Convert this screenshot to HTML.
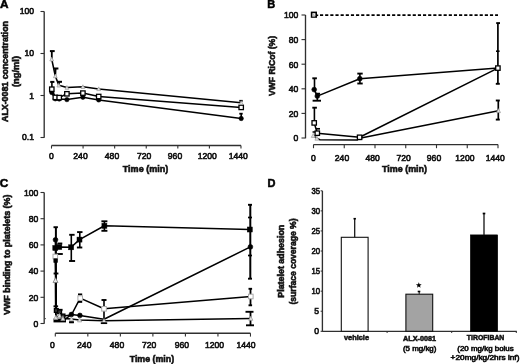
<!DOCTYPE html>
<html><head><meta charset="utf-8"><style>
html,body{margin:0;padding:0;background:#fff;width:520px;height:364px;overflow:hidden}
svg{display:block}
text{font-family:"Liberation Sans", sans-serif;stroke:#111;stroke-width:0.6px;paint-order:stroke}
text[font-weight=bold]{stroke-width:0.55px}
svg{filter:grayscale(1) blur(0.3px)}
</style></head><body>
<svg width="520" height="364" viewBox="0 0 520 364">
<rect width="520" height="364" fill="#fff"/>
<text x="0.0" y="8.3" font-size="11.8" font-weight="bold" text-anchor="start" fill="#000">A</text>
<text x="267.3" y="8.4" font-size="11.0" font-weight="bold" text-anchor="start" fill="#000">B</text>
<text x="-0.2" y="186.7" font-size="11.8" font-weight="bold" text-anchor="start" fill="#000">C</text>
<text x="267.6" y="187.2" font-size="11" font-weight="bold" text-anchor="start" fill="#000">D</text>
<line x1="44.2" y1="11.5" x2="44.2" y2="137.8" stroke="#303030" stroke-width="1.35" />
<line x1="40.5" y1="11.5" x2="44.2" y2="11.5" stroke="#303030" stroke-width="1.1" />
<text x="34.0" y="14.3" font-size="8.6" font-weight="normal" text-anchor="end" fill="#111">100</text>
<line x1="40.5" y1="53.5" x2="44.2" y2="53.5" stroke="#303030" stroke-width="1.1" />
<text x="34.0" y="56.1" font-size="8.6" font-weight="normal" text-anchor="end" fill="#111">10</text>
<line x1="40.5" y1="95.5" x2="44.2" y2="95.5" stroke="#303030" stroke-width="1.1" />
<text x="34.0" y="98.6" font-size="8.6" font-weight="normal" text-anchor="end" fill="#111">1</text>
<line x1="40.5" y1="137.5" x2="44.2" y2="137.5" stroke="#303030" stroke-width="1.1" />
<text x="34.0" y="139.8" font-size="8.6" font-weight="normal" text-anchor="end" fill="#111">0.1</text>
<text x="7.6" y="71.5" font-size="8.4" font-weight="bold" text-anchor="middle" fill="#111" textLength="101" lengthAdjust="spacingAndGlyphs" transform="rotate(-90 7.6 71.5)">ALX-0081 concentration</text>
<text x="19.2" y="71.5" font-size="8.4" font-weight="bold" text-anchor="middle" fill="#111" textLength="31" lengthAdjust="spacingAndGlyphs" transform="rotate(-90 19.2 71.5)">(ng/ml)</text>
<line x1="51.5" y1="145.5" x2="240.98" y2="145.5" stroke="#303030" stroke-width="1.35" />
<line x1="51.5" y1="145.5" x2="51.5" y2="148.6" stroke="#303030" stroke-width="1.1" />
<text x="51.45" y="159.2" font-size="8.6" font-weight="normal" text-anchor="middle" fill="#111">0</text>
<line x1="83.08" y1="145.5" x2="83.08" y2="148.6" stroke="#303030" stroke-width="1.1" />
<text x="80.5" y="159.2" font-size="8.6" font-weight="normal" text-anchor="middle" fill="#111">240</text>
<line x1="114.66" y1="145.5" x2="114.66" y2="148.6" stroke="#303030" stroke-width="1.1" />
<text x="112.0" y="159.2" font-size="8.6" font-weight="normal" text-anchor="middle" fill="#111">480</text>
<line x1="146.24" y1="145.5" x2="146.24" y2="148.6" stroke="#303030" stroke-width="1.1" />
<text x="144.1" y="159.2" font-size="8.6" font-weight="normal" text-anchor="middle" fill="#111">720</text>
<line x1="177.82" y1="145.5" x2="177.82" y2="148.6" stroke="#303030" stroke-width="1.1" />
<text x="175.0" y="159.2" font-size="8.6" font-weight="normal" text-anchor="middle" fill="#111">960</text>
<line x1="209.39999999999998" y1="145.5" x2="209.39999999999998" y2="148.6" stroke="#303030" stroke-width="1.1" />
<text x="207.3" y="159.2" font-size="8.6" font-weight="normal" text-anchor="middle" fill="#111">1200</text>
<line x1="240.98" y1="145.5" x2="240.98" y2="148.6" stroke="#303030" stroke-width="1.1" />
<text x="238.25" y="159.2" font-size="8.6" font-weight="normal" text-anchor="middle" fill="#111">1440</text>
<text x="145.5" y="172.0" font-size="8.8" font-weight="bold" text-anchor="middle" fill="#111" textLength="45.5" lengthAdjust="spacingAndGlyphs">Time (min)</text>
<line x1="51.8" y1="51" x2="51.8" y2="59" stroke="#000" stroke-width="1.8" />
<line x1="49.9" y1="51.1" x2="54.699999999999996" y2="51.1" stroke="#000" stroke-width="2.0" />
<line x1="55.6" y1="68.5" x2="55.3" y2="76" stroke="#000" stroke-width="1.8" />
<line x1="54.0" y1="68.5" x2="58.400000000000006" y2="68.5" stroke="#000" stroke-width="2.0" />
<line x1="59.5" y1="81.8" x2="58.8" y2="85" stroke="#000" stroke-width="1.6" />
<line x1="57.599999999999994" y1="81.8" x2="62.0" y2="81.8" stroke="#000" stroke-width="2.0" />
<line x1="51.9" y1="81.8" x2="51.9" y2="89" stroke="#000" stroke-width="1.6" />
<line x1="50.199999999999996" y1="81.9" x2="54.4" y2="81.9" stroke="#000" stroke-width="2.0" />
<line x1="241.2" y1="100.7" x2="241.2" y2="102.8" stroke="#000" stroke-width="1.6" />
<line x1="239.3" y1="100.8" x2="242.7" y2="100.8" stroke="#000" stroke-width="1.8" />
<line x1="241.2" y1="113.6" x2="241.2" y2="118.5" stroke="#000" stroke-width="1.6" />
<line x1="239.3" y1="113.7" x2="242.7" y2="113.7" stroke="#000" stroke-width="1.8" />
<polyline points="51.8,92.5 55.3,98.8 59.2,99.0 66.9,99.6 82.9,97.2 98.7,99.9 241.2,118.5" fill="none" stroke="#000" stroke-width="1.55" stroke-linejoin="round"/>
<polyline points="51.8,89.2 55.3,97.4 59.2,97.6 66.9,93.8 82.9,93.1 98.7,96.5 241.2,107.4" fill="none" stroke="#000" stroke-width="1.55" stroke-linejoin="round"/>
<polyline points="51.7,59.2 55.3,76.0 58.8,85.3 66.9,87.6 82.9,86.8 98.7,88.9 241.2,102.8" fill="none" stroke="#000" stroke-width="1.55" stroke-linejoin="round"/>
<circle cx="51.8" cy="92.5" r="2.2" fill="#000" stroke="#000" stroke-width="0.6"/>
<circle cx="55.3" cy="98.8" r="2.2" fill="#000" stroke="#000" stroke-width="0.6"/>
<circle cx="59.2" cy="99.0" r="2.2" fill="#000" stroke="#000" stroke-width="0.6"/>
<circle cx="66.9" cy="99.6" r="2.2" fill="#000" stroke="#000" stroke-width="0.6"/>
<circle cx="82.9" cy="97.2" r="2.2" fill="#000" stroke="#000" stroke-width="0.6"/>
<circle cx="98.7" cy="99.9" r="2.2" fill="#000" stroke="#000" stroke-width="0.6"/>
<circle cx="241.2" cy="118.5" r="2.2" fill="#000" stroke="#000" stroke-width="0.6"/>
<rect x="49.599999999999994" y="87.0" width="4.4" height="4.4" fill="#fff" stroke="#000" stroke-width="1.3"/>
<rect x="53.099999999999994" y="95.2" width="4.4" height="4.4" fill="#fff" stroke="#000" stroke-width="1.3"/>
<rect x="57.0" y="95.39999999999999" width="4.4" height="4.4" fill="#fff" stroke="#000" stroke-width="1.3"/>
<rect x="64.7" y="91.6" width="4.4" height="4.4" fill="#fff" stroke="#000" stroke-width="1.3"/>
<rect x="80.7" y="90.89999999999999" width="4.4" height="4.4" fill="#fff" stroke="#000" stroke-width="1.3"/>
<rect x="96.5" y="94.3" width="4.4" height="4.4" fill="#fff" stroke="#000" stroke-width="1.3"/>
<rect x="239.0" y="105.2" width="4.4" height="4.4" fill="#fff" stroke="#000" stroke-width="1.3"/>
<polygon points="51.7,57.190000000000005 53.6,60.910000000000004 49.800000000000004,60.910000000000004" fill="#e4e4e4" stroke="#999" stroke-width="0.7"/>
<polygon points="55.3,73.99000000000001 57.199999999999996,77.71 53.4,77.71" fill="#e4e4e4" stroke="#999" stroke-width="0.7"/>
<polygon points="58.8,83.29 60.699999999999996,87.00999999999999 56.9,87.00999999999999" fill="#e4e4e4" stroke="#999" stroke-width="0.7"/>
<polygon points="66.9,85.59 68.80000000000001,89.30999999999999 65.0,89.30999999999999" fill="#e4e4e4" stroke="#999" stroke-width="0.7"/>
<polygon points="82.9,84.79 84.80000000000001,88.50999999999999 81.0,88.50999999999999" fill="#e4e4e4" stroke="#999" stroke-width="0.7"/>
<polygon points="98.7,86.89000000000001 100.60000000000001,90.61 96.8,90.61" fill="#e4e4e4" stroke="#999" stroke-width="0.7"/>
<polygon points="241.2,100.79 243.1,104.50999999999999 239.29999999999998,104.50999999999999" fill="#e4e4e4" stroke="#999" stroke-width="0.7"/>
<line x1="305.5" y1="15" x2="305.5" y2="138.3" stroke="#303030" stroke-width="1.35" />
<line x1="301.5" y1="15.0" x2="305.5" y2="15.0" stroke="#303030" stroke-width="1.1" />
<text x="298.3" y="18.3" font-size="8.6" font-weight="normal" text-anchor="end" fill="#111">100</text>
<line x1="301.5" y1="39.6" x2="305.5" y2="39.6" stroke="#303030" stroke-width="1.1" />
<text x="298.3" y="42.9" font-size="8.6" font-weight="normal" text-anchor="end" fill="#111">80</text>
<line x1="301.5" y1="64.2" x2="305.5" y2="64.2" stroke="#303030" stroke-width="1.1" />
<text x="298.3" y="67.5" font-size="8.6" font-weight="normal" text-anchor="end" fill="#111">60</text>
<line x1="301.5" y1="88.80000000000001" x2="305.5" y2="88.80000000000001" stroke="#303030" stroke-width="1.1" />
<text x="298.3" y="92.10000000000001" font-size="8.6" font-weight="normal" text-anchor="end" fill="#111">40</text>
<line x1="301.5" y1="113.4" x2="305.5" y2="113.4" stroke="#303030" stroke-width="1.1" />
<text x="298.3" y="116.7" font-size="8.6" font-weight="normal" text-anchor="end" fill="#111">20</text>
<line x1="301.5" y1="138.0" x2="305.5" y2="138.0" stroke="#303030" stroke-width="1.1" />
<text x="298.3" y="141.3" font-size="8.6" font-weight="normal" text-anchor="end" fill="#111">0</text>
<text x="274.8" y="66" font-size="8.6" font-weight="bold" text-anchor="middle" fill="#111" textLength="60" lengthAdjust="spacingAndGlyphs" transform="rotate(-90 274.8 66)">VWF RiCof (%)</text>
<line x1="313.5" y1="144.6" x2="498.0" y2="144.6" stroke="#303030" stroke-width="1.35" />
<line x1="313.5" y1="144.6" x2="313.5" y2="148.2" stroke="#303030" stroke-width="1.1" />
<text x="313.5" y="160.7" font-size="8.6" font-weight="normal" text-anchor="middle" fill="#111">0</text>
<line x1="344.25" y1="144.6" x2="344.25" y2="148.2" stroke="#303030" stroke-width="1.1" />
<text x="342.0" y="160.7" font-size="8.6" font-weight="normal" text-anchor="middle" fill="#111">240</text>
<line x1="375.0" y1="144.6" x2="375.0" y2="148.2" stroke="#303030" stroke-width="1.1" />
<text x="372.6" y="160.7" font-size="8.6" font-weight="normal" text-anchor="middle" fill="#111">480</text>
<line x1="405.75" y1="144.6" x2="405.75" y2="148.2" stroke="#303030" stroke-width="1.1" />
<text x="403.65" y="160.7" font-size="8.6" font-weight="normal" text-anchor="middle" fill="#111">720</text>
<line x1="436.5" y1="144.6" x2="436.5" y2="148.2" stroke="#303030" stroke-width="1.1" />
<text x="434.0" y="160.7" font-size="8.6" font-weight="normal" text-anchor="middle" fill="#111">960</text>
<line x1="467.25" y1="144.6" x2="467.25" y2="148.2" stroke="#303030" stroke-width="1.1" />
<text x="464.9" y="160.7" font-size="8.6" font-weight="normal" text-anchor="middle" fill="#111">1200</text>
<line x1="498.0" y1="144.6" x2="498.0" y2="148.2" stroke="#303030" stroke-width="1.1" />
<text x="495.25" y="160.7" font-size="8.6" font-weight="normal" text-anchor="middle" fill="#111">1440</text>
<text x="404.5" y="172.0" font-size="8.8" font-weight="bold" text-anchor="middle" fill="#111" textLength="45" lengthAdjust="spacingAndGlyphs">Time (min)</text>
<line x1="320.0" y1="15.2" x2="498.0" y2="15.2" stroke="#000" stroke-width="1.7" stroke-dasharray="3.15 2.0"/>
<line x1="316.0" y1="15.3" x2="318.2" y2="15.3" stroke="#000" stroke-width="1.6" />
<rect x="311.59999999999997" y="12.399999999999999" width="4.6" height="4.6" fill="#fff" stroke="#000" stroke-width="1.6"/>
<polygon points="313.7,13.93 315.0,16.57 312.4,16.57" fill="#ccc" stroke="#999" stroke-width="0.5"/>
<line x1="314.5" y1="78.3" x2="314.5" y2="89.6" stroke="#000" stroke-width="1.6" />
<line x1="312.3" y1="78.3" x2="316.90000000000003" y2="78.3" stroke="#000" stroke-width="1.9" />
<line x1="315.5" y1="93.7" x2="320.1" y2="93.7" stroke="#000" stroke-width="1.9" />
<line x1="312.6" y1="100.7" x2="321.0" y2="100.7" stroke="#000" stroke-width="1.9" />
<line x1="317.3" y1="93.7" x2="317.3" y2="100.7" stroke="#000" stroke-width="1.6" />
<line x1="314.4" y1="107.7" x2="314.4" y2="122.9" stroke="#000" stroke-width="1.6" />
<line x1="312.3" y1="107.7" x2="316.90000000000003" y2="107.7" stroke="#000" stroke-width="1.9" />
<line x1="316.0" y1="128.8" x2="320.0" y2="128.8" stroke="#000" stroke-width="1.7" />
<line x1="312.55" y1="132.0" x2="316.05" y2="132.0" stroke="#000" stroke-width="1.5" />
<line x1="359.9" y1="73.6" x2="359.9" y2="83.5" stroke="#000" stroke-width="1.6" />
<line x1="357.3" y1="73.6" x2="362.7" y2="73.6" stroke="#000" stroke-width="1.9" />
<line x1="357.3" y1="83.5" x2="362.7" y2="83.5" stroke="#000" stroke-width="1.9" />
<line x1="497.9" y1="23.1" x2="497.9" y2="83.8" stroke="#000" stroke-width="1.7" />
<line x1="496.20000000000005" y1="23.1" x2="500.0" y2="23.1" stroke="#000" stroke-width="1.9" />
<line x1="496.0" y1="51.2" x2="499.6" y2="51.2" stroke="#000" stroke-width="1.6" />
<line x1="495.8" y1="83.8" x2="499.8" y2="83.8" stroke="#000" stroke-width="1.9" />
<line x1="498.3" y1="100.5" x2="498.3" y2="119.6" stroke="#000" stroke-width="1.7" />
<line x1="495.8" y1="100.5" x2="499.8" y2="100.5" stroke="#000" stroke-width="1.9" />
<line x1="495.8" y1="119.6" x2="499.8" y2="119.6" stroke="#000" stroke-width="1.9" />
<polyline points="313.3,135.6 316.9,138.4 320,139.7 357,140.1 359.6,138.3 498.5,110.8" fill="none" stroke="#000" stroke-width="1.55" stroke-linejoin="round"/>
<polyline points="314.2,122.9 317.3,133.2 359.6,137.3 497.9,68.1" fill="none" stroke="#000" stroke-width="1.55" stroke-linejoin="round"/>
<polyline points="314.2,89.6 317.3,96.1 359.8,78.7 497.9,68.1" fill="none" stroke="#000" stroke-width="1.55" stroke-linejoin="round"/>
<polygon points="313.3,133.49999999999997 315.3,137.4 311.3,137.4" fill="#e4e4e4" stroke="#999" stroke-width="0.7"/>
<polygon points="316.9,136.29999999999998 318.9,140.20000000000002 314.9,140.20000000000002" fill="#e4e4e4" stroke="#999" stroke-width="0.7"/>
<polygon points="359.6,135.89999999999998 361.6,139.8 357.6,139.8" fill="#e4e4e4" stroke="#999" stroke-width="0.7"/>
<polygon points="498.5,108.7 500.5,112.6 496.5,112.6" fill="#e4e4e4" stroke="#999" stroke-width="0.7"/>
<rect x="312.0" y="120.7" width="4.4" height="4.4" fill="#fff" stroke="#000" stroke-width="1.3"/>
<rect x="315.1" y="131.0" width="4.4" height="4.4" fill="#fff" stroke="#000" stroke-width="1.3"/>
<rect x="357.40000000000003" y="135.10000000000002" width="4.4" height="4.4" fill="#fff" stroke="#000" stroke-width="1.3"/>
<rect x="495.7" y="65.89999999999999" width="4.4" height="4.4" fill="#fff" stroke="#000" stroke-width="1.3"/>
<circle cx="314.2" cy="89.6" r="2.4" fill="#000" stroke="#000" stroke-width="0.6"/>
<circle cx="317.3" cy="96.1" r="2.4" fill="#000" stroke="#000" stroke-width="0.6"/>
<circle cx="359.8" cy="78.7" r="2.4" fill="#000" stroke="#000" stroke-width="0.6"/>
<line x1="44.2" y1="192.5" x2="44.2" y2="323.8" stroke="#303030" stroke-width="1.35" />
<line x1="40.5" y1="192.5" x2="44.2" y2="192.5" stroke="#303030" stroke-width="1.1" />
<text x="38.3" y="195.8" font-size="8.6" font-weight="normal" text-anchor="end" fill="#111">100</text>
<line x1="40.5" y1="218.7" x2="44.2" y2="218.7" stroke="#303030" stroke-width="1.1" />
<text x="38.3" y="222.0" font-size="8.6" font-weight="normal" text-anchor="end" fill="#111">80</text>
<line x1="40.5" y1="244.9" x2="44.2" y2="244.9" stroke="#303030" stroke-width="1.1" />
<text x="38.3" y="248.20000000000002" font-size="8.6" font-weight="normal" text-anchor="end" fill="#111">60</text>
<line x1="40.5" y1="271.1" x2="44.2" y2="271.1" stroke="#303030" stroke-width="1.1" />
<text x="38.3" y="274.40000000000003" font-size="8.6" font-weight="normal" text-anchor="end" fill="#111">40</text>
<line x1="40.5" y1="297.3" x2="44.2" y2="297.3" stroke="#303030" stroke-width="1.1" />
<text x="38.3" y="300.6" font-size="8.6" font-weight="normal" text-anchor="end" fill="#111">20</text>
<line x1="40.5" y1="323.5" x2="44.2" y2="323.5" stroke="#303030" stroke-width="1.1" />
<text x="38.3" y="326.8" font-size="8.6" font-weight="normal" text-anchor="end" fill="#111">0</text>
<text x="9.6" y="254.8" font-size="8.6" font-weight="bold" text-anchor="middle" fill="#111" textLength="120.5" lengthAdjust="spacingAndGlyphs" transform="rotate(-90 9.6 254.8)">VWF binding to platelets (%)</text>
<line x1="55.3" y1="333.2" x2="250.48000000000002" y2="333.2" stroke="#303030" stroke-width="1.35" />
<line x1="55.3" y1="333.2" x2="55.3" y2="336.6" stroke="#303030" stroke-width="1.1" />
<text x="52.35" y="347.7" font-size="8.6" font-weight="normal" text-anchor="middle" fill="#111">0</text>
<line x1="87.83" y1="333.2" x2="87.83" y2="336.6" stroke="#303030" stroke-width="1.1" />
<text x="84.25" y="347.7" font-size="8.6" font-weight="normal" text-anchor="middle" fill="#111">240</text>
<line x1="120.36" y1="333.2" x2="120.36" y2="336.6" stroke="#303030" stroke-width="1.1" />
<text x="117.0" y="347.7" font-size="8.6" font-weight="normal" text-anchor="middle" fill="#111">480</text>
<line x1="152.89" y1="333.2" x2="152.89" y2="336.6" stroke="#303030" stroke-width="1.1" />
<text x="149.2" y="347.7" font-size="8.6" font-weight="normal" text-anchor="middle" fill="#111">720</text>
<line x1="185.42000000000002" y1="333.2" x2="185.42000000000002" y2="336.6" stroke="#303030" stroke-width="1.1" />
<text x="181.8" y="347.7" font-size="8.6" font-weight="normal" text-anchor="middle" fill="#111">960</text>
<line x1="217.95" y1="333.2" x2="217.95" y2="336.6" stroke="#303030" stroke-width="1.1" />
<text x="214.5" y="347.7" font-size="8.6" font-weight="normal" text-anchor="middle" fill="#111">1200</text>
<line x1="250.48000000000002" y1="333.2" x2="250.48000000000002" y2="336.6" stroke="#303030" stroke-width="1.1" />
<text x="246.0" y="347.7" font-size="8.6" font-weight="normal" text-anchor="middle" fill="#111">1440</text>
<text x="151.9" y="362.0" font-size="8.8" font-weight="bold" text-anchor="middle" fill="#111" textLength="44.4" lengthAdjust="spacingAndGlyphs">Time (min)</text>
<circle cx="45.2" cy="318.6" r="0.7" fill="#333"/>
<line x1="55.9" y1="227.2" x2="55.9" y2="310" stroke="#000" stroke-width="2.0" />
<line x1="53.5" y1="227.2" x2="57.900000000000006" y2="227.2" stroke="#000" stroke-width="1.9" />
<line x1="55.2" y1="254.0" x2="62.8" y2="254.0" stroke="#000" stroke-width="1.9" />
<line x1="53.6" y1="273.5" x2="58.4" y2="273.5" stroke="#000" stroke-width="1.9" />
<line x1="53.5" y1="306.3" x2="58.099999999999994" y2="306.3" stroke="#000" stroke-width="1.9" />
<line x1="57.05" y1="309.8" x2="62.55" y2="309.8" stroke="#000" stroke-width="1.9" />
<line x1="57.3" y1="243.5" x2="62.3" y2="243.5" stroke="#000" stroke-width="1.9" />
<line x1="71.3" y1="234.8" x2="71.3" y2="261.0" stroke="#000" stroke-width="1.6" />
<line x1="69.2" y1="234.8" x2="74.60000000000001" y2="234.8" stroke="#000" stroke-width="1.9" />
<line x1="69.1" y1="261.0" x2="75.1" y2="261.0" stroke="#000" stroke-width="1.9" />
<line x1="79.8" y1="232.1" x2="79.8" y2="247.5" stroke="#000" stroke-width="1.6" />
<line x1="77.1" y1="232.1" x2="82.5" y2="232.1" stroke="#000" stroke-width="1.9" />
<line x1="76.89999999999999" y1="247.5" x2="82.3" y2="247.5" stroke="#000" stroke-width="1.9" />
<line x1="78.0" y1="294.4" x2="82.19999999999999" y2="294.4" stroke="#000" stroke-width="1.9" />
<line x1="78.0" y1="301.9" x2="82.19999999999999" y2="301.9" stroke="#000" stroke-width="1.9" />
<line x1="104.4" y1="221.3" x2="104.4" y2="230.8" stroke="#000" stroke-width="1.6" />
<line x1="101.4" y1="221.3" x2="107.4" y2="221.3" stroke="#000" stroke-width="1.9" />
<line x1="101.4" y1="230.8" x2="107.4" y2="230.8" stroke="#000" stroke-width="1.9" />
<line x1="104.0" y1="300.0" x2="104.0" y2="322.6" stroke="#000" stroke-width="1.6" />
<line x1="101.5" y1="300.0" x2="106.5" y2="300.0" stroke="#000" stroke-width="1.9" />
<line x1="250.3" y1="204.8" x2="250.3" y2="278.7" stroke="#000" stroke-width="2.0" />
<line x1="248.0" y1="204.8" x2="252.0" y2="204.8" stroke="#000" stroke-width="1.9" />
<line x1="248.0" y1="217.5" x2="252.0" y2="217.5" stroke="#000" stroke-width="1.7" />
<line x1="248.0" y1="255.5" x2="252.0" y2="255.5" stroke="#000" stroke-width="1.7" />
<line x1="248.0" y1="278.7" x2="252.0" y2="278.7" stroke="#000" stroke-width="1.9" />
<line x1="250.5" y1="288.8" x2="250.5" y2="305.3" stroke="#000" stroke-width="1.8" />
<line x1="248.5" y1="288.8" x2="252.10000000000002" y2="288.8" stroke="#000" stroke-width="1.9" />
<line x1="248.5" y1="305.3" x2="252.10000000000002" y2="305.3" stroke="#000" stroke-width="1.9" />
<line x1="250.5" y1="311.8" x2="250.5" y2="325.3" stroke="#000" stroke-width="1.8" />
<line x1="245.5" y1="311.8" x2="253.5" y2="311.8" stroke="#000" stroke-width="1.9" />
<line x1="246.0" y1="325.3" x2="254.0" y2="325.3" stroke="#000" stroke-width="1.9" />
<rect x="53.5" y="318.6" width="12.5" height="3.8" fill="#000"/>
<rect x="69.2" y="321.2" width="4.6" height="1.9" fill="#000"/>
<polyline points="55.5,239.8 56.0,320.5 59.5,320.8 63.0,320.8 71.4,314.5 79.9,315.4 104.0,319.3 250.4,246.9" fill="none" stroke="#000" stroke-width="1.55" stroke-linejoin="round"/>
<polyline points="55.5,280.3 55.8,317.5 59.4,315.6 62.9,318.5 71.4,319.0 79.6,320.0 104.0,320.8 250.8,318.4" fill="none" stroke="#000" stroke-width="1.55" stroke-linejoin="round"/>
<polyline points="55.3,256.5 56.3,310.5 59.6,311.8 63.0,316.0 71.4,315.0 80.2,298.1 104.0,308.8 250.8,296.5" fill="none" stroke="#000" stroke-width="1.55" stroke-linejoin="round"/>
<polyline points="55.3,248.0 59.3,247.0 71.1,247.3 79.5,239.6 104.4,225.8 249.8,229.5" fill="none" stroke="#000" stroke-width="1.55" stroke-linejoin="round"/>
<rect x="53.0" y="254.2" width="4.6" height="4.6" fill="#fff" stroke="#aaa" stroke-width="1.0"/>
<rect x="54.4" y="308.6" width="3.8" height="3.8" fill="#333" stroke="#000" stroke-width="1.3"/>
<rect x="57.7" y="309.90000000000003" width="3.8" height="3.8" fill="#333" stroke="#000" stroke-width="1.3"/>
<rect x="61.1" y="314.1" width="3.8" height="3.8" fill="#333" stroke="#000" stroke-width="1.3"/>
<rect x="77.9" y="295.8" width="4.6" height="4.6" fill="#fff" stroke="#aaa" stroke-width="1.0"/>
<rect x="101.7" y="306.5" width="4.6" height="4.6" fill="#fff" stroke="#aaa" stroke-width="1.0"/>
<rect x="248.5" y="294.2" width="4.6" height="4.6" fill="#fff" stroke="#aaa" stroke-width="1.0"/>
<circle cx="55.5" cy="239.8" r="2.4" fill="#000" stroke="#000" stroke-width="0.6"/>
<circle cx="71.4" cy="314.5" r="2.4" fill="#000" stroke="#000" stroke-width="0.6"/>
<circle cx="79.9" cy="315.4" r="2.4" fill="#000" stroke="#000" stroke-width="0.6"/>
<circle cx="250.4" cy="246.9" r="2.4" fill="#000" stroke="#000" stroke-width="0.6"/>
<polygon points="55.8,315.31 57.9,319.39 53.699999999999996,319.39" fill="#e4e4e4" stroke="#999" stroke-width="0.7"/>
<polygon points="59.4,313.41 61.5,317.49 57.3,317.49" fill="#e4e4e4" stroke="#999" stroke-width="0.7"/>
<polygon points="62.9,316.31 65.0,320.39 60.8,320.39" fill="#e4e4e4" stroke="#999" stroke-width="0.7"/>
<polygon points="71.4,316.81 73.5,320.89 69.30000000000001,320.89" fill="#e4e4e4" stroke="#999" stroke-width="0.7"/>
<polygon points="79.6,317.81 81.69999999999999,321.89 77.5,321.89" fill="#e4e4e4" stroke="#999" stroke-width="0.7"/>
<polygon points="104.0,318.61 106.1,322.69 101.9,322.69" fill="#e4e4e4" stroke="#999" stroke-width="0.7"/>
<polygon points="250.8,316.21 252.9,320.28999999999996 248.70000000000002,320.28999999999996" fill="#e4e4e4" stroke="#999" stroke-width="0.7"/>
<polygon points="55.5,277.75 58.0,282.55 53.0,282.55" fill="#e8e8e8" stroke="#777" stroke-width="0.8"/>
<rect x="53.9" y="258.90000000000003" width="3.4" height="3.4" fill="#000" stroke="#000" stroke-width="0.8"/>
<line x1="100.8" y1="323.2" x2="107.2" y2="323.2" stroke="#000" stroke-width="1.7" />
<rect x="69.2" y="321.6" width="4.6" height="1.6" fill="#000"/>
<rect x="52.8" y="245.5" width="5.0" height="5.0" fill="#000" stroke="#000" stroke-width="0.5"/>
<rect x="56.8" y="244.5" width="5.0" height="5.0" fill="#000" stroke="#000" stroke-width="0.5"/>
<rect x="68.6" y="244.8" width="5.0" height="5.0" fill="#000" stroke="#000" stroke-width="0.5"/>
<rect x="77.0" y="237.1" width="5.0" height="5.0" fill="#000" stroke="#000" stroke-width="0.5"/>
<rect x="101.9" y="223.3" width="5.0" height="5.0" fill="#000" stroke="#000" stroke-width="0.5"/>
<rect x="247.3" y="227.0" width="5.0" height="5.0" fill="#000" stroke="#000" stroke-width="0.5"/>
<line x1="322.4" y1="190.8" x2="322.4" y2="331.8" stroke="#303030" stroke-width="1.35" />
<line x1="320.6" y1="331.3" x2="322.4" y2="331.3" stroke="#303030" stroke-width="1.0" />
<text x="319.0" y="334.40000000000003" font-size="8.6" font-weight="normal" text-anchor="end" fill="#111">0</text>
<line x1="320.6" y1="311.23" x2="322.4" y2="311.23" stroke="#303030" stroke-width="1.0" />
<text x="319.0" y="314.33000000000004" font-size="8.6" font-weight="normal" text-anchor="end" fill="#111">5</text>
<line x1="320.6" y1="291.16" x2="322.4" y2="291.16" stroke="#303030" stroke-width="1.0" />
<text x="320.0" y="294.26000000000005" font-size="8.6" font-weight="normal" text-anchor="end" fill="#111" textLength="8.6" lengthAdjust="spacingAndGlyphs">10</text>
<line x1="320.6" y1="271.09000000000003" x2="322.4" y2="271.09000000000003" stroke="#303030" stroke-width="1.0" />
<text x="320.0" y="274.19000000000005" font-size="8.6" font-weight="normal" text-anchor="end" fill="#111" textLength="8.6" lengthAdjust="spacingAndGlyphs">15</text>
<line x1="320.6" y1="251.02" x2="322.4" y2="251.02" stroke="#303030" stroke-width="1.0" />
<text x="320.0" y="254.12" font-size="8.6" font-weight="normal" text-anchor="end" fill="#111" textLength="8.6" lengthAdjust="spacingAndGlyphs">20</text>
<line x1="320.6" y1="230.95" x2="322.4" y2="230.95" stroke="#303030" stroke-width="1.0" />
<text x="320.0" y="234.04999999999998" font-size="8.6" font-weight="normal" text-anchor="end" fill="#111" textLength="8.6" lengthAdjust="spacingAndGlyphs">25</text>
<line x1="320.6" y1="210.88" x2="322.4" y2="210.88" stroke="#303030" stroke-width="1.0" />
<text x="320.0" y="213.98" font-size="8.6" font-weight="normal" text-anchor="end" fill="#111" textLength="8.6" lengthAdjust="spacingAndGlyphs">30</text>
<line x1="320.6" y1="190.81" x2="322.4" y2="190.81" stroke="#303030" stroke-width="1.0" />
<text x="320.0" y="193.91" font-size="8.6" font-weight="normal" text-anchor="end" fill="#111" textLength="8.6" lengthAdjust="spacingAndGlyphs">35</text>
<text x="283.8" y="261.2" font-size="8.2" font-weight="bold" text-anchor="middle" fill="#111" textLength="73" lengthAdjust="spacingAndGlyphs" transform="rotate(-90 283.8 261.2)">Platelet adhesion</text>
<text x="295.8" y="261.5" font-size="8.2" font-weight="bold" text-anchor="middle" fill="#111" textLength="86" lengthAdjust="spacingAndGlyphs" transform="rotate(-90 295.8 261.5)">(surface coverage %)</text>
<line x1="322.4" y1="331.3" x2="516.8" y2="331.3" stroke="#303030" stroke-width="1.35" />
<line x1="387.1" y1="331.3" x2="387.1" y2="333.0" stroke="#303030" stroke-width="1.0" />
<line x1="451.7" y1="331.3" x2="451.7" y2="333.0" stroke="#303030" stroke-width="1.0" />
<line x1="516.3" y1="331.3" x2="516.3" y2="333.0" stroke="#303030" stroke-width="1.0" />
<rect x="341.3" y="237.3" width="26.8" height="94.0" fill="#fff" stroke="#111" stroke-width="1.1"/>
<rect x="405.9" y="294.2" width="26.8" height="37.10000000000002" fill="#a3a3a3" stroke="#111" stroke-width="1.1"/>
<rect x="470.4" y="234.9" width="27.3" height="96.4" fill="#000" stroke="#000" stroke-width="0.6"/>
<line x1="354.7" y1="218.5" x2="354.7" y2="237.3" stroke="#111" stroke-width="1.25" />
<line x1="353.5" y1="218.7" x2="355.9" y2="218.7" stroke="#000" stroke-width="1.6" />
<line x1="419.2" y1="291.4" x2="419.2" y2="294.2" stroke="#222" stroke-width="1.1" />
<line x1="417.7" y1="291.5" x2="420.3" y2="291.5" stroke="#000" stroke-width="1.6" />
<line x1="484.0" y1="213.3" x2="484.0" y2="235" stroke="#111" stroke-width="1.3" />
<line x1="482.7" y1="213.5" x2="485.3" y2="213.5" stroke="#000" stroke-width="1.7" />
<polygon points="418.80,282.30 419.56,284.25 421.65,284.37 420.04,285.70 420.56,287.73 418.80,286.60 417.04,287.73 417.56,285.70 415.95,284.37 418.04,284.25" fill="#000"/>
<text x="356.5" y="340.0" font-size="7.8" font-weight="bold" text-anchor="middle" fill="#111" textLength="25" lengthAdjust="spacingAndGlyphs">vehicle</text>
<text x="419.5" y="340.5" font-size="7.8" font-weight="bold" text-anchor="middle" fill="#111" textLength="33" lengthAdjust="spacingAndGlyphs">ALX-0081</text>
<text x="419.7" y="350.7" font-size="7.3" font-weight="normal" text-anchor="middle" fill="#111" textLength="33.5" lengthAdjust="spacingAndGlyphs">(5 mg/kg)</text>
<text x="485.6" y="339.6" font-size="7.8" font-weight="bold" text-anchor="middle" fill="#111" textLength="37.5" lengthAdjust="spacingAndGlyphs">TIROFIBAN</text>
<text x="485.5" y="350.8" font-size="7.3" font-weight="normal" text-anchor="middle" fill="#111" textLength="56.5" lengthAdjust="spacingAndGlyphs">(20 mg/kg bolus</text>
<text x="485.0" y="360.0" font-size="7.3" font-weight="normal" text-anchor="middle" fill="#111" textLength="68.8" lengthAdjust="spacingAndGlyphs">+20mg/kg/2hrs inf)</text>
</svg>
</body></html>
